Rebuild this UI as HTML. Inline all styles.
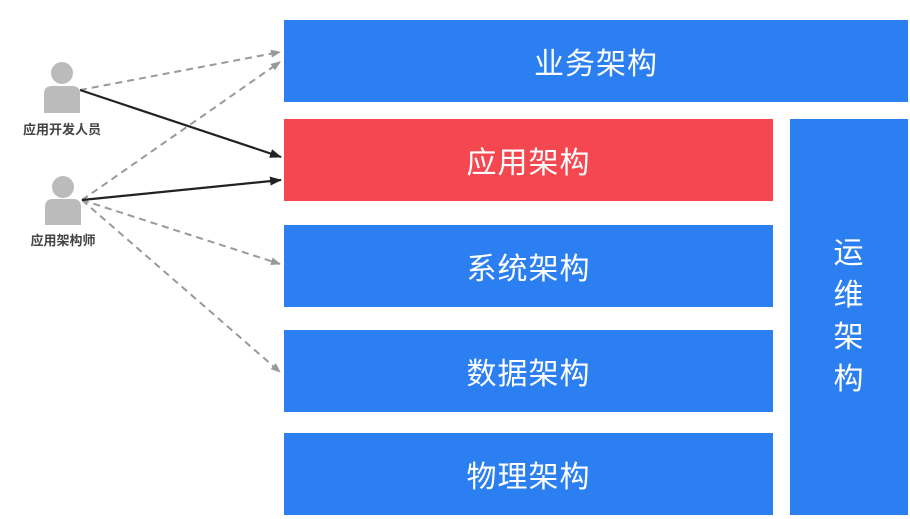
<!DOCTYPE html>
<html><head><meta charset="utf-8"><style>
body{margin:0;width:910px;height:519px;background:#fff;overflow:hidden;position:relative;font-family:"Liberation Sans","Noto Sans CJK SC",sans-serif}
.b{position:absolute;background:#2b7ff0;color:#fff;font-size:30px;display:flex;align-items:center;justify-content:center;letter-spacing:1px}
.r{background:#f4474f}
.lbl{position:absolute;font-size:13px;font-weight:bold;color:#444;width:120px;text-align:center}
</style></head><body>
<div class="b" style="left:284px;top:20px;width:624px;height:82px">业务架构</div>
<div class="b r" style="left:284px;top:119px;width:489px;height:82px">应用架构</div>
<div class="b" style="left:284px;top:225px;width:489px;height:82px">系统架构</div>
<div class="b" style="left:284px;top:330px;width:489px;height:82px">数据架构</div>
<div class="b" style="left:284px;top:433px;width:489px;height:82px">物理架构</div>
<div class="b" style="left:790px;top:119px;width:118px;height:396px;flex-direction:column;line-height:42px">运<br>维<br>架<br>构</div>
<svg width="910" height="519" style="position:absolute;left:0;top:0">
<defs>
<marker id="g" markerWidth="10" markerHeight="8" refX="9" refY="4" orient="auto" markerUnits="userSpaceOnUse"><path d="M0,0L10,4L0,8z" fill="#999"/></marker>
<marker id="k" markerWidth="12" markerHeight="9" refX="11" refY="4.5" orient="auto" markerUnits="userSpaceOnUse"><path d="M0,0L12,4.5L0,9z" fill="#222"/></marker>
</defs>
<g fill="#bbb">
<circle cx="62" cy="73" r="11"/><path d="M44,113V94q0-8 8-8h20q8,0 8,8v19z"/>
<circle cx="63" cy="187" r="11"/><path d="M45,225V207q0-8 8-8h20q8,0 8,8v18z"/>
</g>
<g stroke="#999" stroke-width="2" stroke-dasharray="7,5" fill="none" marker-end="url(#g)">
<line x1="80" y1="90" x2="280" y2="52"/>
<line x1="82" y1="200" x2="280" y2="62"/>
<line x1="82" y1="200" x2="280" y2="264"/>
<line x1="82" y1="200" x2="280" y2="372"/>
</g>
<g stroke="#222" stroke-width="2.2" fill="none" marker-end="url(#k)">
<line x1="80" y1="90" x2="281" y2="157"/>
<line x1="82" y1="200" x2="281" y2="180"/>
</g>
</svg>
<div class="lbl" style="left:2px;top:119px">应用开发人员</div>
<div class="lbl" style="left:3px;top:230px">应用架构师</div>
</body></html>
